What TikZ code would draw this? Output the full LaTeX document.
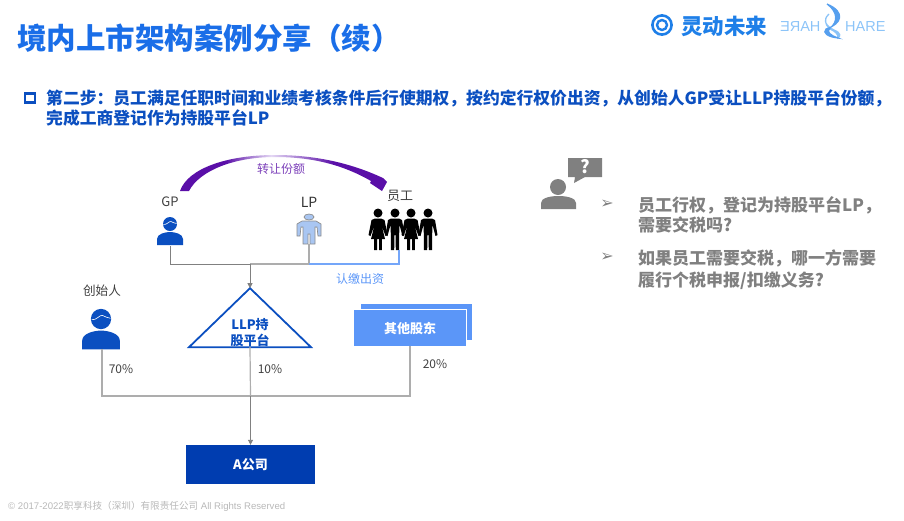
\documentclass[tikz,border=0pt]{standalone}
\usepackage{fontspec}
\setmainfont{Noto Sans CJK SC}
\newfontfamily\symfont{DejaVu Sans}
\newfontfamily\logofont{Liberation Sans}
\usetikzlibrary{arrows.meta, positioning, shapes.geometric}

\definecolor{titleblue}{HTML}{1A6EE8}
\definecolor{deepblue}{HTML}{0B4FC0}
\definecolor{boxblue}{HTML}{003DB0}
\definecolor{softblue}{HTML}{5B96F8}
\definecolor{logoblue}{HTML}{1E7FE8}
\definecolor{palelogo}{HTML}{8CC4F8}
\definecolor{arcpurple}{HTML}{5A0FA8}
\definecolor{arclight}{HTML}{E4D8F4}
\definecolor{labelgrey}{HTML}{404040}
\definecolor{askgrey}{HTML}{808080}
\definecolor{lpfill}{HTML}{A9C6F2}

\pgfdeclarehorizontalshading{arcshade}{100bp}{color(0bp)=(arcpurple); color(36bp)=(arcpurple); color(47bp)=(arclight); color(62bp)=(arcpurple); color(100bp)=(arcpurple)}

\newcommand{\fs}[1]{\fontsize{#1}{#1}\selectfont}

\tikzset{
    iconbox/.style={inner sep=0, outer sep=0, minimum width=#1},
    caption/.style={text=labelgrey, inner sep=0, font=\fs{12}},
    asktext/.style={text=askgrey, inner sep=0, anchor=west, align=left, font=\fs{17}\bfseries},
    arrowline/.style={draw=askgrey, line width=0.9pt, -{Triangle[length=5pt, width=5pt]}},
    stemline/.style={draw=black!32, line width=1.2pt},
    personicon/.pic={
        \fill[deepblue] (0,0) circle (7);
        \draw[white, line width=0.6pt] (-6.5,0.5) .. controls (-3,1) and (-1,-3) .. (1,-2.5) .. controls (3,-2) and (4,-0.5) .. (6.5,-0.5);
        \fill[deepblue] (-13,21) -- (-13,15) .. controls (-13,10) and (-5,8) .. (0,8) .. controls (5,8) and (13,10) .. (13,15) -- (13,21) -- cycle;
    },
    manicon/.pic={
        \fill[black] (0,0) circle (4.5);
        \fill[black] (-4,5.5) -- (4,5.5) -- (7,7) -- (9.5,22) -- (7.5,23) -- (4.5,12) -- (4.2,21) -- (4.2,37) -- (0.8,37) -- (0.5,22) -- (-0.5,22) -- (-0.8,37) -- (-4.2,37) -- (-4.2,21) -- (-4.5,12) -- (-7.5,23) -- (-9.5,22) -- (-7,7) -- cycle;
    },
    womanicon/.pic={
        \fill[black] (0,0) circle (4.5);
        \fill[black] (-3,5.5) -- (3,5.5) -- (6.5,7) -- (9.5,22) -- (7.5,23) -- (3.5,12) -- (7,26) -- (3.8,26) -- (3.8,37) -- (1,37) -- (1,26) -- (-1,26) -- (-1,37) -- (-3.8,37) -- (-3.8,26) -- (-7,26) -- (-3.5,12) -- (-7.5,23) -- (-9.5,22) -- (-6.5,7) -- cycle;
    }
}

\begin{document}
\begin{tikzpicture}[x=1pt, y=-1pt]
    \useasboundingbox (0,0) rectangle (904,520);

    % heading
    \node[anchor=west, inner sep=0, text=titleblue, font=\fs{29.5}\bfseries] (heading) at (17,38) {境内上市架构案例分享（续）};
    \draw[deepblue, line width=2.2pt] (25,93.5) rectangle (35,102.5);
    \node[anchor=west, inner sep=0, text=deepblue, align=left, font=\fontsize{16.8}{20}\selectfont\bfseries] (steptext) at (46,108) {第二步：员工满足任职时间和业绩考核条件后行使期权，按约定行权价出资，从创始人GP受让LLP持股平台份额，\\完成工商登记作为持股平台LP};

    % logos
    \draw[logoblue, line width=2.6pt] (662,25) circle (9.6);
    \draw[logoblue, line width=2.4pt] (662,25) circle (5);
    \node[anchor=west, inner sep=0, text=logoblue, font=\fs{21.5}\bfseries] (brand) at (681,26) {灵动未来};
    \node[anchor=east, inner sep=0, text=palelogo, xscale=-1, font=\logofont\fs{14.5}] (hareflip) at (780,27) {HARE};
    \node[anchor=west, inner sep=0, text=palelogo, font=\logofont\fs{14.5}] (hare) at (845,27) {HARE};
    \filldraw[palelogo, line width=1.2pt] (829,14) .. controls (822,20) and (826,26) .. (834,30) .. controls (842,33) and (840,37) .. (838,38) .. controls (838,34) and (836,32) .. (830,29) .. controls (824,24) and (824,18) .. (829,14);
    \filldraw[logoblue!75, line width=1.2pt] (827,4) .. controls (846,12) and (842,24) .. (826,29) .. controls (822,33) and (828,37) .. (838,38) .. controls (830,35) and (826,32) .. (830,28) .. controls (838,22) and (838,12) .. (827,4);

    % top row of holders
    \node[iconbox=26, minimum height=28] (gp) at (170,232) {};
    \pic at (170,224) {personicon};
    \node[caption, font=\fs{13}, above=11pt of gp.north] (gplabel) {GP};
    \node[iconbox=24, minimum height=30] (lp) at (309,229) {};
    \fill[lpfill, draw=black!45, line width=0.7pt] (309,217) ellipse (5 and 3);
    \fill[lpfill, draw=black!45, line width=0.7pt] (302,221) -- (316,221) -- (321,224) -- (321,236) -- (318,236) -- (317,227) -- (315,227) -- (315,244) -- (310,244) -- (310,234) -- (308,234) -- (308,244) -- (303,244) -- (303,227) -- (301,227) -- (300,236) -- (297,236) -- (297,224) -- cycle;
    \node[caption, font=\fs{14}, text=black!80, above=6pt of lp.north] (lplabel) {LP};
    \node[iconbox=60, minimum height=40] (staff) at (399,230) {};
    \pic at (378,213) {womanicon};
    \pic at (395,213) {manicon};
    \pic at (411,213) {womanicon};
    \pic at (428,213) {manicon};
    \node[caption, font=\fs{13}] (stafflabel) at (400,196) {员工};

    % transfer arc
    \shade[shading=arcshade] (180,191) .. controls (188,168) and (228,155) .. (275,155) .. controls (320,155) and (355,165) .. (383,178) -- (387,182) -- (382,191) -- (370,183) -- (371,181) .. controls (345,166) and (315,157) .. (275,157) .. controls (235,157) and (200,170) .. (189,191) -- cycle;
    \node[caption, text=arcpurple!80, font=\fs{12}] (transferlabel) at (281,169) {转让份额};

    % platform and the other shareholders
    \node[isosceles triangle, isosceles triangle apex angle=92, isosceles triangle stretches, shape border rotate=90, draw=deepblue, line width=1.8pt, inner sep=0, outer sep=0, minimum width=122pt, minimum height=59pt] (platform) at (250,322.5) {};
    \node[inner sep=0, align=center, text=deepblue, font=\fontsize{13}{16}\selectfont\bfseries] (platformtext) at (250,333) {LLP持\\股平台};
    \coordinate (joinpoint) at (250,264);
    \draw[draw=black!50, line width=0.9pt] (gp.south) |- (joinpoint);
    \draw[stemline] (lp.south) |- (joinpoint);
    \draw[draw=softblue!85, line width=1.2pt] (staff.south) |- (lp.south |- joinpoint);
    \draw[arrowline] (joinpoint) -- (platform.apex);
    \node[caption, text=softblue, font=\fs{12}] (paylabel) at (360,279) {认缴出资};

    \node[minimum width=111pt, minimum height=36pt, inner sep=0, fill=softblue] (otherback) at (416.5,322) {};
    \node[minimum width=112pt, minimum height=36pt, inner sep=0, fill=softblue, text=white, font=\fs{13}\bfseries] (others) at (410,328) {其他股东};
    \draw[white, line width=0.8pt] (others.north west) -- (others.north east) -- (others.south east);

    \node[iconbox=38, minimum height=40] (founder) at (102,329) {};
    \pic[scale=1.45] at (101,319) {personicon};
    \node[caption, font=\fs{12.6}, above=12pt of founder.north] (founderlabel) {创始人};

    % company and holdings
    \node[minimum width=129pt, minimum height=39pt, inner sep=0, fill=boxblue, text=white, font=\fs{13}\bfseries] (company) at (250.5,464.5) {A公司};
    \coordinate (sharepoint) at (250.5,396);
    \draw[stemline] (founder.south) |- (sharepoint);
    \draw[stemline] (others.south) |- (sharepoint);
    \draw[stemline] (platform.lower side) -- (sharepoint);
    \draw[arrowline] (sharepoint) -- (company.north);
    \node[caption] (shareone) at (121,369) {70\%};
    \node[caption] (sharetwo) at (270,369) {10\%};
    \node[caption] (sharethree) at (435,364) {20\%};

    % questions
    \fill[askgrey] (558,187) circle (8);
    \fill[askgrey] (541,209) -- (541,203) .. controls (541,198) and (550,196) .. (558.5,196) .. controls (567,196) and (576,198) .. (576,203) -- (576,209) -- cycle;
    \fill[askgrey] (568,158) -- (602,158) -- (602,177) -- (585,177) -- (574,183) -- (575,177) -- (568,177) -- cycle;
    \node[inner sep=0, text=white, font=\fs{18}\bfseries] (askmark) at (585,167) {?};
    \node[inner sep=0, text=askgrey, font=\symfont\fs{16}] (askone) at (607,204) {➢};
    \node[inner sep=0, text=askgrey, font=\symfont\fs{16}] (asktwo) at (607,257) {➢};
    \node[asktext] (questionone) at (638,205) {员工行权，登记为持股平台LP，};
    \node[asktext, below=3pt of questionone.south west, anchor=north west] (questiontwo) {需要交税吗?};
    \node[asktext] (questionthree) at (638,258) {如果员工需要交税，哪一方需要};
    \node[asktext, below=5pt of questionthree.south west, anchor=north west] (questionfour) {履行个税申报/扣缴义务?};

    % footer
    \node[anchor=west, inner sep=0, text=black!28, font=\logofont\fs{9.6}] (footer) at (8,506) {© 2017-2022{\rmfamily 职享科技（深圳）有限责任公司} All Rights Reserved};
\end{tikzpicture}
\end{document}
